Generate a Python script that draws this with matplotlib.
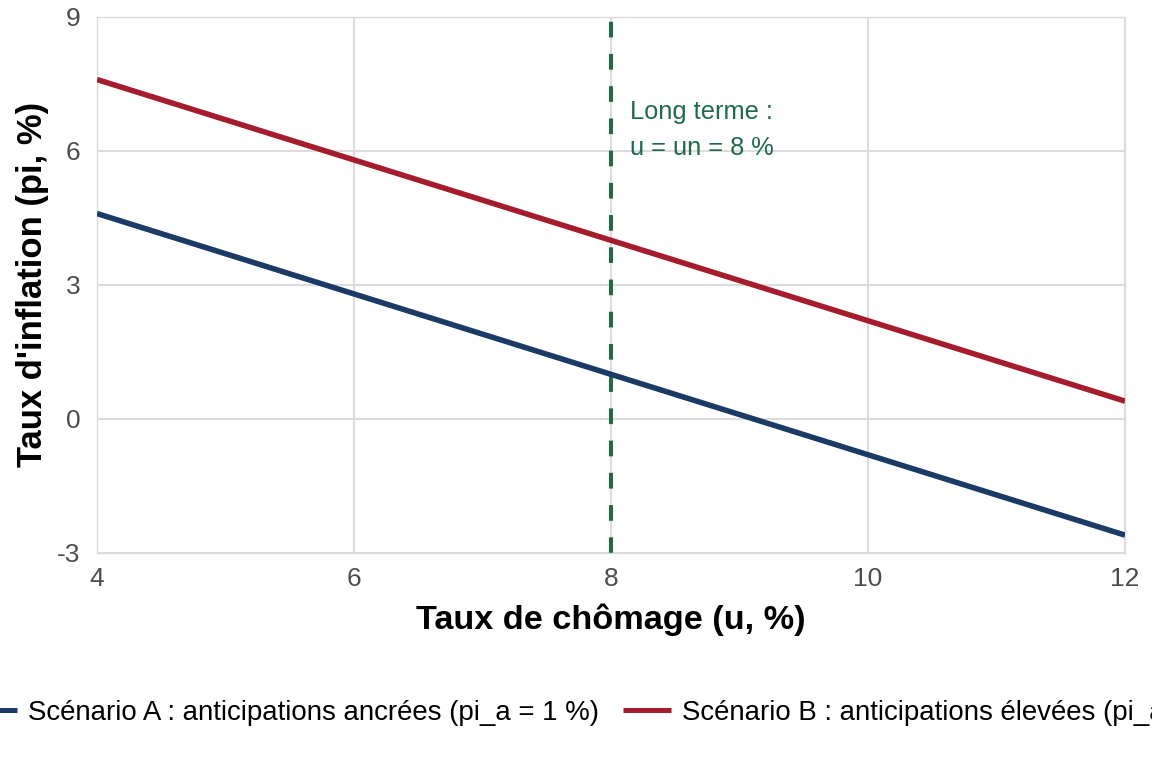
"""
Courbe de Phillips augmentée des anticipations : deux scénarios
"""

import matplotlib
matplotlib.use('Agg')
import matplotlib.pyplot as plt
import numpy as np

plt.rcParams['font.family'] = ['Liberation Sans', 'DejaVu Sans']
plt.rcParams['axes.unicode_minus'] = False

# Données
chomage = [4, 8, 12]
scenario_a = [4.6, 1.0, -2.6]
scenario_b = [7.6, 4.0, 0.4]
u_naturel = 8

label_a = 'Scénario A : anticipations ancrées (pi_a = 1 %)'
label_b = 'Scénario B : anticipations élevées (pi_a = 4 %)'
x_ticks = [4, 6, 8, 10, 12]
y_ticks = [-3, 0, 3, 6, 9]

# Couleurs
bleu = '#1b3a66'
rouge = '#a51d2d'
vert = '#1f6b47'
gris_grille = '#dcdcdc'

fig = plt.figure(figsize=(11.52, 7.68), dpi=100)
ax = fig.add_axes([97 / 1152, 1 - 553 / 768, (1125 - 97) / 1152, (553 - 17) / 768])

ax.plot(chomage, scenario_a, color=bleu, linewidth=4, label=label_a, solid_capstyle='butt', zorder=3)
ax.plot(chomage, scenario_b, color=rouge, linewidth=4, label=label_b, solid_capstyle='butt', zorder=3)

vline = ax.axvline(u_naturel, color=vert, linewidth=2.9, zorder=2)
vline.set_dashes((3.9, 4.1))
vline.set_dash_capstyle('butt')

ax.text(u_naturel + 0.15, 6.47, 'Long terme :\nu = un = 8 %', color=vert,
        fontsize=18.3, ha='left', va='center', linespacing=1.6)

ax.set_xlim(4, 12)
ax.set_ylim(-3, 9)
ax.set_xticks(x_ticks)
ax.set_yticks(y_ticks)
ax.tick_params(axis='both', length=0, labelsize=19, labelcolor='#4d4d4d')
ax.tick_params(axis='x', pad=10)
ax.tick_params(axis='y', pad=12)

ax.grid(True, color=gris_grille, linewidth=1.5, zorder=0)
ax.set_axisbelow(True)
for spine in ax.spines.values():
    spine.set_color(gris_grille)
    spine.set_linewidth(1.0)

fig.text((97 + 1125) / 2 / 1152, 1 - 620 / 768, 'Taux de chômage (u, %)',
         fontsize=24.7, fontweight='bold', ha='center', va='center')
fig.text(33 / 1152, 1 - 284 / 768, "Taux d'inflation (pi, %)",
         fontsize=24.9, fontweight='bold', ha='center', va='center', rotation=90)

leg = fig.legend(handles=ax.get_lines()[:2], loc='center',
                 bbox_to_anchor=((97 + 1125) / 2 / 1152, 1 - 713 / 768),
                 ncol=2, frameon=False, fontsize=19.9, handlelength=1.74,
                 handletextpad=0.4, columnspacing=0.88, borderpad=0, borderaxespad=0)
for line in leg.get_lines():
    line.set_linewidth(3.6)

plt.savefig('out.png', dpi=100, facecolor='white')
plt.close()
